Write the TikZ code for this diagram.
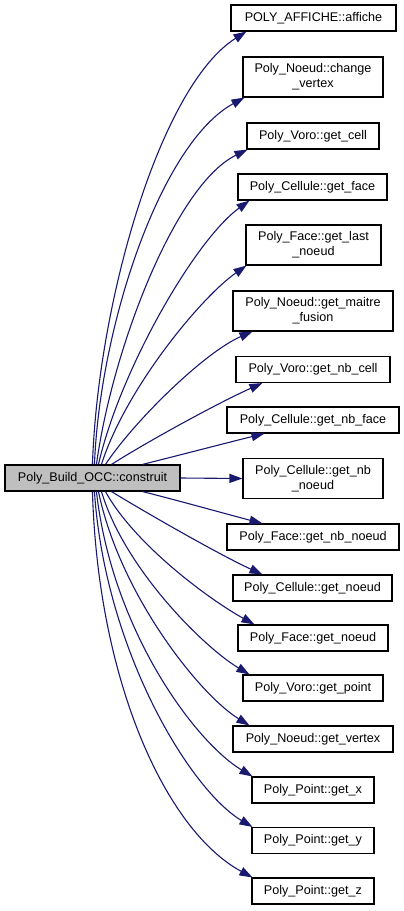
\documentclass[tikz,border=0pt]{standalone}
\usepackage{fontspec}
\setmainfont{Liberation Sans}
\usetikzlibrary{arrows.meta,calc}
\definecolor{edgeblue}{RGB}{25,25,112}
\definecolor{maingray}{RGB}{191,191,191}
\begin{document}
\begin{tikzpicture}[x=1pt,y=-1pt,
  box/.style={draw=black,line width=1.1pt,fill=white,inner sep=0pt,align=center,
    font=\fontsize{12.6pt}{15pt}\selectfont},
  edge/.style={draw=edgeblue,line width=1.1pt,-{Triangle[length=13pt,width=9pt]}}]
\useasboundingbox (0,0) rectangle (404,911);
\node[box,fill=maingray,minimum width=175pt,minimum height=26pt] (main) at (92.5,478) {Poly\_Build\_OCC::construit};
\node[box,minimum width=165pt,minimum height=26pt] (t1) at (313.5,18) {POLY\_AFFICHE::affiche};
\node[box,minimum width=140pt,minimum height=40pt] (t2) at (313,77) {Poly\_Noeud::change\\\_vertex};
\node[box,minimum width=132pt,minimum height=26pt] (t3) at (313,136) {Poly\_Voro::get\_cell};
\node[box,minimum width=149pt,minimum height=26pt] (t4) at (312.5,187) {Poly\_Cellule::get\_face};
\node[box,minimum width=135pt,minimum height=40pt] (t5) at (313.5,245) {Poly\_Face::get\_last\\\_noeud};
\node[box,minimum width=160pt,minimum height=40pt] (t6) at (313,311) {Poly\_Noeud::get\_maitre\\\_fusion};
\node[box,minimum width=154pt,minimum height=26pt] (t7) at (313,369.5) {Poly\_Voro::get\_nb\_cell};
\node[box,minimum width=172pt,minimum height=26pt] (t8) at (313,420) {Poly\_Cellule::get\_nb\_face};
\node[box,minimum width=140pt,minimum height=40pt] (t9) at (313,478.5) {Poly\_Cellule::get\_nb\\\_noeud};
\node[box,minimum width=172pt,minimum height=26pt] (t10) at (313,537) {Poly\_Face::get\_nb\_noeud};
\node[box,minimum width=159pt,minimum height=26pt] (t11) at (312.5,588) {Poly\_Cellule::get\_noeud};
\node[box,minimum width=150pt,minimum height=26pt] (t12) at (313,638) {Poly\_Face::get\_noeud};
\node[box,minimum width=140pt,minimum height=26pt] (t13) at (313,688) {Poly\_Voro::get\_point};
\node[box,minimum width=160pt,minimum height=26pt] (t14) at (313,739) {Poly\_Noeud::get\_vertex};
\node[box,minimum width=122pt,minimum height=26pt] (t15) at (313,790) {Poly\_Point::get\_x};
\node[box,minimum width=122pt,minimum height=26pt] (t16) at (313,840.5) {Poly\_Point::get\_y};
\node[box,minimum width=122pt,minimum height=26pt] (t17) at (313,891) {Poly\_Point::get\_z};
% upper edges
\draw[edge] ($(main.north west)+(88,0)$) .. controls (98,300) and (161,85) .. ($(t1.south west)+(16,0)$);
\draw[edge] ($(main.north west)+(90,0)$) .. controls (100,325) and (161,143) .. ($(t2.south west)+(2,0)$);
\draw[edge] ($(main.north west)+(92,0)$) .. controls (112,350) and (175,185) .. ($(t3.south west)+(1,0)$);
\draw[edge] ($(main.north west)+(94,0)$) .. controls (120,370) and (195,240) .. ($(t4.south west)+(12,0)$);
\draw[edge] ($(main.north west)+(97,0)$) .. controls (125,390) and (200,298) .. ($(t5.south west)+(1,0)$);
\draw[edge] ($(main.north west)+(101,0)$) .. controls (135,420) and (205,352) .. ($(t6.south west)+(20,0)$);
\draw[edge] ($(main.north west)+(107,0)$) .. controls (150,440) and (220,402) .. ($(t7.south west)+(27,0)$);
\draw[edge] ($(main.north west)+(138,0)$) .. controls (180,455) and (230,442) .. ($(t8.south west)+(38,0)$);
\draw[edge] (main.east) -- (t9.west);
% lower edges
\draw[edge] ($(main.south west)+(138,0)$) .. controls (180,501) and (230,515) .. ($(t10.north west)+(36,0)$);
\draw[edge] ($(main.south west)+(107,0)$) .. controls (150,515) and (220,555) .. ($(t11.north west)+(30,0)$);
\draw[edge] ($(main.south west)+(101,0)$) .. controls (135,545) and (210,600) .. ($(t12.north west)+(17,0)$);
\draw[edge] ($(main.south west)+(97,0)$) .. controls (125,570) and (205,648) .. ($(t13.north west)+(7,0)$);
\draw[edge] ($(main.south west)+(94,0)$) .. controls (120,595) and (200,695) .. ($(t14.north west)+(17,0)$);
\draw[edge] ($(main.south west)+(92,0)$) .. controls (112,630) and (195,742) .. ($(t15.north west)+(1,0)$);
\draw[edge] ($(main.south west)+(90,0)$) .. controls (105,650) and (190,790) .. ($(t16.north west)+(1,0)$);
\draw[edge] ($(main.south west)+(88,0)$) .. controls (98,680) and (165,830) .. ($(t17.north west)+(1,0)$);
\end{tikzpicture}
\end{document}
